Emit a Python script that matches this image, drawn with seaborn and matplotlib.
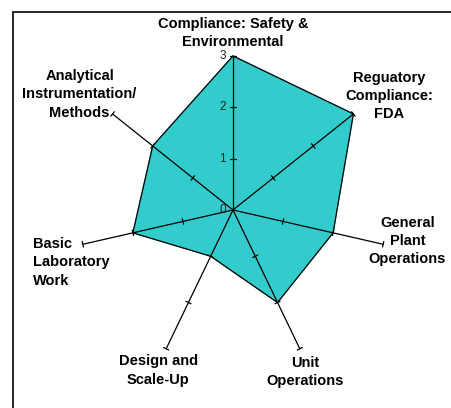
import numpy as np
import pandas as pd
import matplotlib
matplotlib.use("Agg")
import matplotlib.pyplot as plt
from matplotlib.patches import Rectangle
import seaborn as sns

# chart data
categories = [
    "Compliance: Safety &\nEnvironmental",
    "Reguatory\nCompliance:\nFDA",
    "General\nPlant\nOperations",
    "Unit\nOperations",
    "Design and\nScale-Up",
    "Basic\nLaboratory\nWork",
    "Analytical\nInstrumentation/\nMethods",
]
scores = [3, 3, 2, 2, 1, 2, 2]
scale_ticks = [0, 1, 2, 3]

sns.set_theme(style="white")
plt.rcParams['font.family'] = ['Liberation Sans', 'DejaVu Sans']
plt.rcParams['text.color'] = 'black'

n = len(categories)
angles = np.arange(n) * 2 * np.pi / n
rmax = scale_ticks[-1]

fig = plt.figure(figsize=(4.51, 4.08), dpi=100)
fig.patch.set_facecolor("white")
ax = fig.add_axes([0.1751, 0.1078, 0.683, 0.755], projection="polar")
ax.set_theta_offset(np.pi / 2)
ax.set_theta_direction(-1)
ax.set_ylim(0, rmax)
ax.set_axis_off()

# filled polygon
df = pd.DataFrame({"theta": np.append(angles, 2 * np.pi),
                   "r": scores + [scores[0]]})
ax.fill(df["theta"], df["r"], color="#33CCCC", zorder=1)
sns.lineplot(data=df, x="theta", y="r", ax=ax, color="black", lw=0.9,
             sort=True, estimator=None, zorder=2, clip_on=False)

# spokes with tick marks
w = 0.055
for a in angles:
    ax.plot([a, a], [0, rmax], color="black", lw=0.9, zorder=3, clip_on=False)
    for r in scale_ticks[1:]:
        d = np.arctan2(w, r)
        ax.plot([a - d, a + d], [np.hypot(r, w)] * 2, color="black",
                lw=0.9, zorder=3, clip_on=False)

# scale labels on the first spoke
for t in scale_ticks:
    ax.annotate(str(t), xy=(0, t), xytext=(-5, 0), textcoords="offset points",
                ha="right", va="center", fontsize=8.5, color="#222222", zorder=4)

# category labels
label_r = [3.45, 3.77, 3.45, 3.45, 3.45, 3.3, 3.74]
label_a = np.deg2rad([0, 54, 100, 156, 205, 252, 307])
label_ha = ["center", "center", "center", "center", "center", "left", "center"]
for txt, a, r, ha in zip(categories, label_a, label_r, label_ha):
    if ha == "left":
        ax.annotate(txt, xy=(a, r), xytext=(-28, 0), textcoords="offset points",
                    ha="left", va="center", fontsize=10.5, fontweight="bold",
                    linespacing=1.38, color="black", annotation_clip=False)
    else:
        ax.text(a, r, txt, ha="center", va="center", fontsize=10.5,
                fontweight="bold", linespacing=1.38, color="black")

# outer frame (only top and left edges visible)
fig.patches.append(Rectangle((13 / 451, -0.2), 1.0, (408 - 12) / 408 + 0.2,
                             transform=fig.transFigure, fill=False,
                             edgecolor="black", lw=1.2))

fig.savefig("out.png", dpi=100)
